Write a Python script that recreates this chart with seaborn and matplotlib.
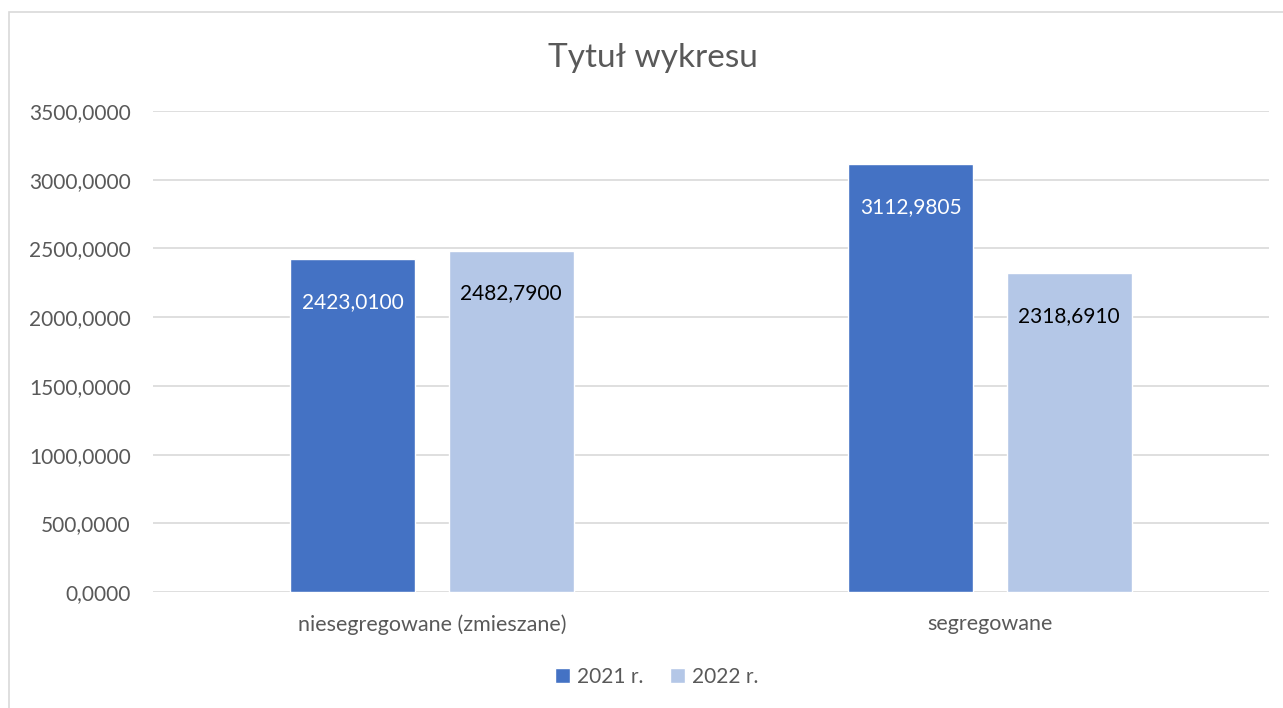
import pandas as pd
import seaborn as sns
import matplotlib.pyplot as plt
from matplotlib.patches import Rectangle

# ---- data ----
categories = ["niesegregowane (zmieszane)", "segregowane"]
years = ["2021 r.", "2022 r."]
values_2021 = [2423.0100, 3112.9805]
values_2022 = [2482.7900, 2318.6910]
yticks = [0, 500, 1000, 1500, 2000, 2500, 3000, 3500]

df = pd.DataFrame({
    "kategoria": categories * 2,
    "rok": [years[0]] * 2 + [years[1]] * 2,
    "wartosc": values_2021 + values_2022,
})

sns.set_theme(style="white")
plt.rcParams["font.family"] = ["Lato", "DejaVu Sans"]

fig = plt.figure(figsize=(12.83, 7.08), dpi=100)
ax = fig.add_axes([0.1193, 0.1638, 0.8697, 0.6794])

palette = {years[0]: "#4472C4", years[1]: "#B4C7E7"}
sns.barplot(data=df, x="kategoria", y="wartosc", hue="rok", palette=palette,
            width=0.568, gap=0.211, saturation=1, ax=ax, legend=True)

ax.set_ylim(0, 3500)
ax.set_yticks(yticks)
ax.set_yticklabels([f"{v:.4f}".replace(".", ",") for v in yticks],
                   fontsize=15, color="#595959")
ax.tick_params(axis="x", labelsize=15.5, labelcolor="#595959", pad=16, length=0)
ax.tick_params(axis="y", pad=16, length=0)
ax.set_xlabel("")
ax.set_ylabel("")
ax.grid(axis="y", color="#D9D9D9", linewidth=1.2)
ax.set_axisbelow(True)
for s in ax.spines.values():
    s.set_visible(False)

# data labels inside bar tops
for cont, col in zip(ax.containers, ["white", "black"]):
    labels = [f"{b.get_height():.4f}".replace(".", ",") for b in cont]
    ax.bar_label(cont, labels=labels, label_type="edge", padding=-38,
                 color=col, fontsize=15)

# legend and title centred on the whole chart area (incl. the clipped border)
ax.legend_.remove()
handles, labels = ax.get_legend_handles_labels()
leg = fig.legend(handles, labels, loc="upper center",
                 bbox_to_anchor=(0.512, 0.085), ncol=2,
                 frameon=False, fontsize=15, handlelength=0.7, handleheight=0.7,
                 handletextpad=0.35, columnspacing=1.3)
for t in leg.get_texts():
    t.set_color("#595959")

fig.text(0.509, 0.918, "Tytuł wykresu", ha="center", va="center",
         fontsize=24, color="#595959")

# chart border (Excel chart area)
fig.patches.append(Rectangle((9 / 1283, -0.1), 1.2, 1 - 12 / 708 + 0.1,
                             transform=fig.transFigure, fill=False,
                             edgecolor="#D9D9D9", linewidth=1.2))

fig.savefig("out.png", dpi=100)
